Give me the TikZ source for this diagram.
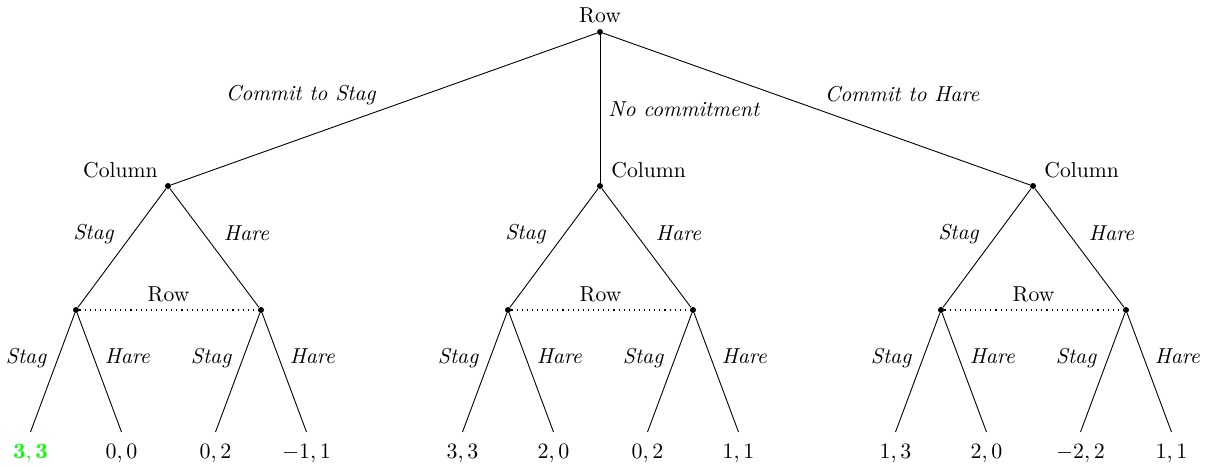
\documentclass[tikz,border=0pt]{standalone}
\begin{document}
\newcommand\treefont{\fontsize{10.8}{13}\selectfont}
\begin{tikzpicture}[x=0.5pt,y=-0.5pt,font=\treefont,
  dec/.style={circle,fill,inner sep=0pt,minimum size=3pt},
  branch/.style={line width=0.45pt},
  act/.style={font=\treefont\itshape,inner sep=2pt},
  stagl/.style={act,midway,anchor=south east},
  harel/.style={act,midway,anchor=south west},
  payoff/.style={anchor=base,inner sep=0pt},
  infoset/.style={dotted,line width=0.55pt},
  winner/.style={text=green}]
\useasboundingbox (0,0) rectangle (1211,468);

% decision nodes
\node[dec] (root) at (600,32) {};
\node[dec] (cL) at (168,186) {};
\node[dec] (cM) at (600,186) {};
\node[dec] (cR) at (1033,186) {};
\node[dec] (rL1) at (76,310) {};
\node[dec] (rL2) at (261,310) {};
\node[dec] (rM1) at (508,310) {};
\node[dec] (rM2) at (693,310) {};
\node[dec] (rR1) at (941,310) {};
\node[dec] (rR2) at (1126,310) {};

% player labels
\node[anchor=base,inner sep=0pt] (proot) at (600,22) {Row};
\node[anchor=base east,inner sep=0pt] (pcL) at (158,177) {Column};
\node[anchor=base west,inner sep=0pt] (pcM) at (611,177) {Column};
\node[anchor=base west,inner sep=0pt] (pcR) at (1044,177) {Column};

% first move
\draw[branch] (root) -- node[act,midway,anchor=south east,xshift=-2pt]{Commit to Stag} (cL);
\draw[branch] (root) -- node[act,midway,anchor=west,xshift=2pt]{No commitment} (cM);
\draw[branch] (root) -- node[act,midway,anchor=south west,xshift=2pt,yshift=1.5pt]{Commit to Hare} (cR);

% column's moves, with Row's information sets
\foreach \c/\a/\b in {cL/rL1/rL2, cM/rM1/rM2, cR/rR1/rR2}{
  \draw[branch] (\c) -- node[stagl,xshift=-2pt]{Stag} (\a);
  \draw[branch] (\c) -- node[harel,xshift=2.5pt,yshift=1.5pt]{Hare} (\b);
  \draw[infoset] (\a) -- node[anchor=base,inner sep=0pt,yshift=4.2pt]{\upshape Row} (\b);
}

% terminal points
\foreach \n/\x in {1/30.5, 2/121.5, 3/215.5, 4/306.5,
                   5/462.5, 6/553.5, 7/647.5, 8/738.5,
                   9/895.5, 10/986.5, 11/1080.5, 12/1171.5}{
  \coordinate (t\n) at (\x,432);
}

% row's moves
\foreach \r/\s/\h in {rL1/1/2, rL2/3/4, rM1/5/6, rM2/7/8, rR1/9/10, rR2/11/12}{
  \draw[branch] (\r) -- node[stagl,xshift=-1pt]{Stag} (t\s);
  \draw[branch] (\r) -- node[harel,xshift=0.5pt,yshift=2pt]{Hare} (t\h);
}

% payoffs
\node[payoff,winner] (v1) at (30.5,458) {$\mathbf{3,3}$};
\node[payoff] (v2) at (121.5,458) {$0,0$};
\node[payoff] (v3) at (215.5,458) {$0,2$};
\node[payoff] (v4) at (306.5,458) {$-1,1$};
\node[payoff] (v5) at (462.5,458) {$3,3$};
\node[payoff] (v6) at (553.5,458) {$2,0$};
\node[payoff] (v7) at (647.5,458) {$0,2$};
\node[payoff] (v8) at (738.5,458) {$1,1$};
\node[payoff] (v9) at (895.5,458) {$1,3$};
\node[payoff] (v10) at (986.5,458) {$2,0$};
\node[payoff] (v11) at (1080.5,458) {$-2,2$};
\node[payoff] (v12) at (1171.5,458) {$1,1$};
\end{tikzpicture}
\end{document}
